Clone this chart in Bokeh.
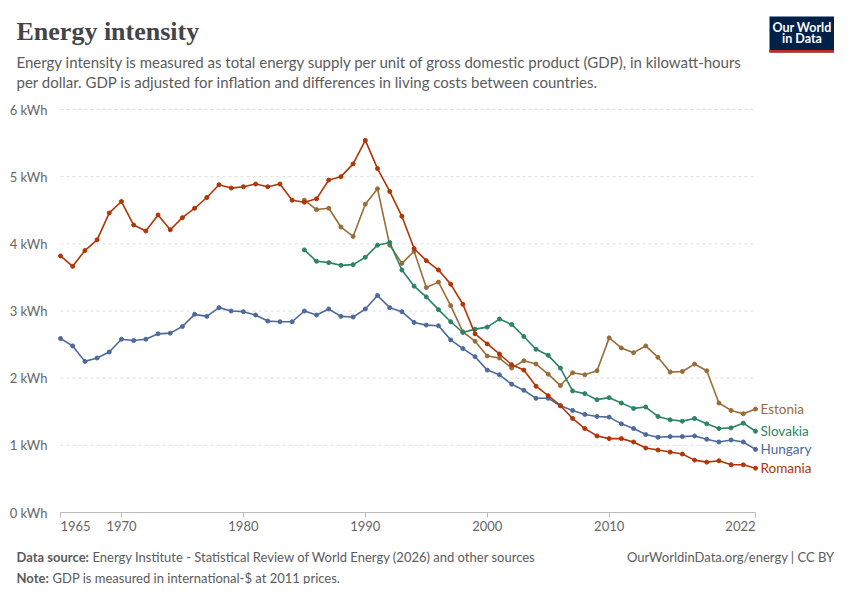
from bokeh.plotting import figure
from bokeh.models import Range1d, Label, BoxAnnotation, FixedTicker
from bokeh.embed import file_html
from bokeh.resources import INLINE

# data (kWh per $)
years = list(range(1965, 2023))
romania = [3.82, 3.665, 3.90, 4.06, 4.46, 4.63, 4.28, 4.19, 4.43, 4.21,
           4.39, 4.53, 4.69, 4.88, 4.83, 4.85, 4.89, 4.85, 4.89, 4.65,
           4.62, 4.67, 4.95, 5.00, 5.19, 5.54, 5.12, 4.78, 4.41, 3.93,
           3.75, 3.61, 3.40, 3.10, 2.66, 2.51, 2.36, 2.20, 2.12, 1.88,
           1.74, 1.59, 1.40, 1.25, 1.14, 1.10, 1.10, 1.05, 0.96, 0.93,
           0.90, 0.87, 0.78, 0.75, 0.77, 0.71, 0.71, 0.66]
hungary = [2.59, 2.48, 2.25, 2.30, 2.39, 2.58, 2.56, 2.58, 2.66, 2.67,
           2.77, 2.95, 2.92, 3.05, 3.00, 2.99, 2.94, 2.85, 2.84, 2.84,
           3.00, 2.94, 3.03, 2.92, 2.91, 3.03, 3.23, 3.05, 2.99, 2.83,
           2.79, 2.78, 2.57, 2.44, 2.32, 2.12, 2.05, 1.91, 1.82, 1.70,
           1.70, 1.59, 1.52, 1.46, 1.43, 1.42, 1.32, 1.25, 1.16, 1.12,
           1.13, 1.13, 1.14, 1.09, 1.05, 1.08, 1.05, 0.94]
years_late = list(range(1985, 2023))
estonia = [4.65, 4.51, 4.53, 4.25, 4.11, 4.59, 4.82, 3.98, 3.71, 3.89,
           3.35, 3.43, 3.08, 2.69, 2.55, 2.33, 2.30, 2.15, 2.26, 2.21,
           2.06, 1.89, 2.08, 2.05, 2.11, 2.60, 2.45, 2.38, 2.48, 2.31,
           2.09, 2.10, 2.21, 2.11, 1.63, 1.52, 1.47, 1.54]
slovakia = [3.91, 3.74, 3.72, 3.68, 3.69, 3.80, 3.98, 4.02, 3.61, 3.37,
            3.21, 3.02, 2.84, 2.68, 2.73, 2.76, 2.88, 2.80, 2.62, 2.43,
            2.34, 2.15, 1.81, 1.77, 1.68, 1.71, 1.63, 1.55, 1.57, 1.43,
            1.38, 1.36, 1.40, 1.32, 1.25, 1.26, 1.33, 1.21]

x_ticks = [1965, 1970, 1980, 1990, 2000, 2010, 2022]
y_ticks = [0, 1, 2, 3, 4, 5, 6]
y_tick_labels = {t: f"{t} kWh" for t in y_ticks}

series = [
    ("Estonia", years_late, estonia, "#996d39"),
    ("Slovakia", years_late, slovakia, "#2c8465"),
    ("Hungary", years, hungary, "#4c6a9c"),
    ("Romania", years, romania, "#b13507"),
]

FONT = "Lato"
GREY = "#5b5b5b"

# canvas layout: the frame fills the whole canvas, the chart area sits inside it
W, H = 834, 584
left, right, top, bottom = 60, 755, 109, 512
x0, x1 = x_ticks[0], x_ticks[-1]
y0, y1 = y_ticks[0], y_ticks[-1]
kx = (x1 - x0) / (right - left)
ky = (y1 - y0) / (bottom - top)
xr = Range1d(x0 - left * kx, x1 + (W - right) * kx)
yr = Range1d(y0 - (H - bottom) * ky, y1 + top * ky)

p = figure(width=W, height=H, output_backend="svg", toolbar_location=None,
           x_range=xr, y_range=yr, min_border=0)
p.outline_line_color = None
p.grid.visible = False

# dashed horizontal grid, only across the chart area
p.segment(x0=[x0] * len(y_ticks), x1=[x1] * len(y_ticks), y0=y_ticks, y1=y_ticks,
          line_color="#dddddd", line_width=1, line_dash="3 3")

p.yaxis.fixed_location = x0
p.yaxis.bounds = (y0, y1)
p.yaxis.ticker = FixedTicker(ticks=y_ticks)
p.yaxis.major_label_overrides = y_tick_labels
p.yaxis.axis_line_color = None
p.yaxis.major_tick_line_color = None
p.yaxis.minor_tick_line_color = None
p.yaxis.major_label_standoff = 7
p.yaxis.major_label_text_font = FONT
p.yaxis.major_label_text_font_size = "13px"
p.yaxis.major_label_text_color = "#666666"

p.xaxis.fixed_location = y0
p.xaxis.bounds = (x0, x1)
p.xaxis.ticker = FixedTicker(ticks=x_ticks)
p.xaxis.major_label_overrides = {t: "" for t in x_ticks}
p.xaxis.axis_line_color = "#bbbbbb"
p.xaxis.major_tick_line_color = "#bbbbbb"
p.xaxis.major_tick_out = 5
p.xaxis.major_tick_in = 0
p.xaxis.minor_tick_line_color = None

# x tick labels: first left-aligned, last right-aligned like the original
for t in x_ticks:
    align = "left" if t == x_ticks[0] else ("right" if t == x_ticks[-1] else "center")
    p.add_layout(Label(x=t, y=H - 525, x_units="data", y_units="screen", text=str(t),
                       text_align=align, text_baseline="middle", text_font=FONT,
                       text_font_size="13px", text_color="#666666"))

for name, xs, ys, color in series:
    p.line(xs, ys, line_color=color, line_width=1.6)
    p.scatter(xs, ys, size=4, color=color)
    p.add_layout(Label(x=xs[-1], y=ys[-1], x_offset=5, text=name, text_color=color,
                       text_font=FONT, text_font_size="13.5px", text_baseline="middle"))


def text(x, y, s, size="13px", bold=False, color=GREY, font=FONT, align="left"):
    # y is the vertical centre of the text, from the top of the canvas
    p.add_layout(Label(x=x, y=H - y, x_units="screen", y_units="screen", text=s,
                       text_font=font, text_font_style="bold" if bold else "normal",
                       text_font_size=size, text_color=color, text_align=align,
                       text_baseline="middle"))


# header
text(16, 31, "Energy intensity", size="26px", bold=True, color="#444444",
     font="Liberation Serif")
text(16, 61, "Energy intensity is measured as total energy supply per unit of gross "
             "domestic product (GDP), in kilowatt-hours", size="15px")
text(16, 81, "per dollar. GDP is adjusted for inflation and differences in living "
             "costs between countries.", size="15px")

# logo
p.add_layout(BoxAnnotation(left=769, right=834, top=H - 16, bottom=H - 52,
                           left_units="screen", right_units="screen",
                           top_units="screen", bottom_units="screen",
                           fill_color="#002147", fill_alpha=1, line_color=None))
p.add_layout(BoxAnnotation(left=769, right=834, top=H - 49.5, bottom=H - 52,
                           left_units="screen", right_units="screen",
                           top_units="screen", bottom_units="screen",
                           fill_color="#ce261e", fill_alpha=1, line_color=None))
text(801.5, 27, "Our World", size="12.5px", bold=True, color="white", align="center")
text(801.5, 38, "in Data", size="12.5px", bold=True, color="white", align="center")

# footer
text(16, 556.5, "Data source:", bold=True)
text(92, 556.5, "Energy Institute - Statistical Review of World Energy (2026) and other sources")
text(834, 556.5, "OurWorldinData.org/energy | CC BY", align="right")
text(16, 577, "Note:", bold=True)
text(52, 577, "GDP is measured in international-$ at 2011 prices.")

open("out.html", "w").write(file_html(p, INLINE))
